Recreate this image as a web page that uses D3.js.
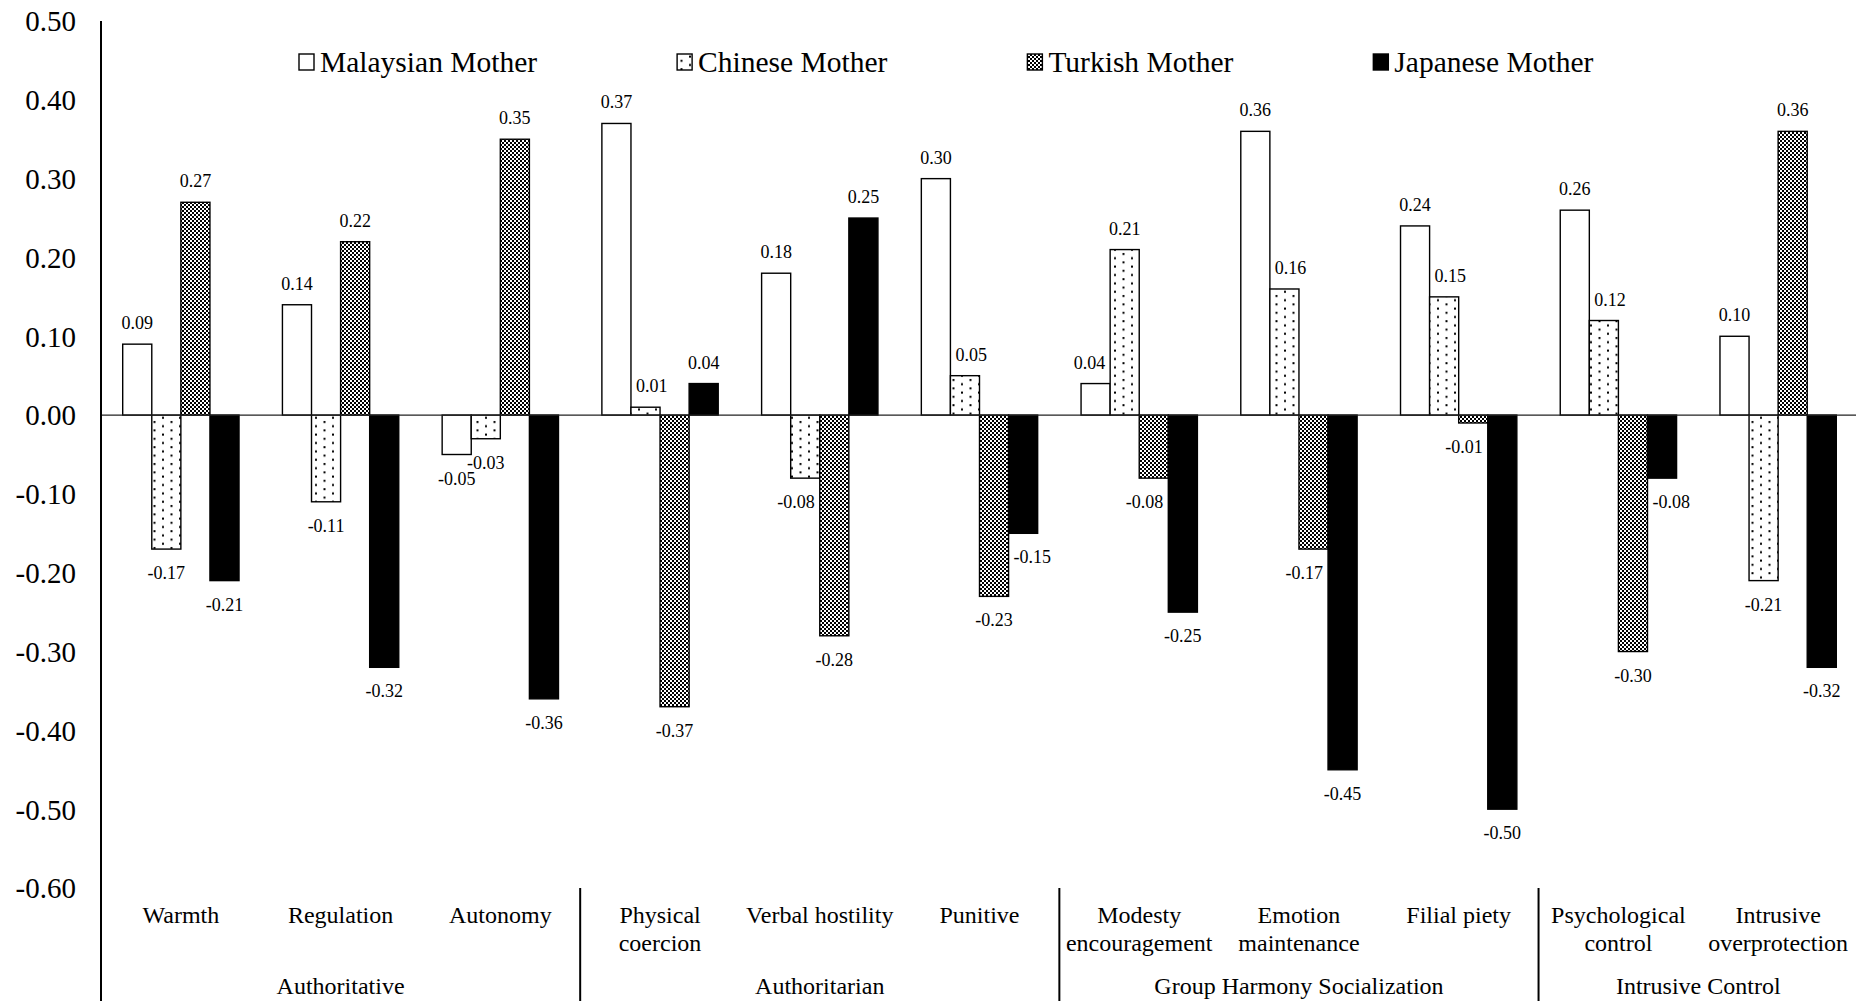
<!DOCTYPE html>
<html>
<head>
<meta charset="utf-8">
<script src="https://cdn.jsdelivr.net/npm/d3@7"></script>
<style>
  html, body { margin: 0; padding: 0; background: #fff; }
  svg { display: block; }
  text { font-family: "Liberation Serif", "Times New Roman", serif; fill: #000; }
</style>
</head>
<body>
<svg id="chart" width="1856" height="1001"></svg>
<script>
// Subscale categories, in plotting order
const categories = [
  "Warmth", "Regulation", "Autonomy",
  "Physical coercion", "Verbal hostility", "Punitive",
  "Modesty encouragement", "Emotion maintenance", "Filial piety",
  "Psychological control", "Intrusive overprotection"
];
// Two-line versions of the category labels
const categoryLines = [
  ["Warmth"], ["Regulation"], ["Autonomy"],
  ["Physical", "coercion"], ["Verbal hostility"], ["Punitive"],
  ["Modesty", "encouragement"], ["Emotion", "maintenance"], ["Filial piety"],
  ["Psychological", "control"], ["Intrusive", "overprotection"]
];
// Parenting style groups and how many categories each spans
const groups = ["Authoritative", "Authoritarian", "Group Harmony Socialization", "Intrusive Control"];
const groupSizes = [3, 3, 3, 2];

const seriesNames = ["Malaysian Mother", "Chinese Mother", "Turkish Mother", "Japanese Mother"];
const malaysian = [0.09, 0.14, -0.05, 0.37, 0.18, 0.30, 0.04, 0.36, 0.24, 0.26, 0.10];
const chinese   = [-0.17, -0.11, -0.03, 0.01, -0.08, 0.05, 0.21, 0.16, 0.15, 0.12, -0.21];
const turkish   = [0.27, 0.22, 0.35, -0.37, -0.28, -0.23, -0.08, -0.17, -0.01, -0.30, 0.36];
const japanese  = [-0.21, -0.32, -0.36, 0.04, 0.25, -0.15, -0.25, -0.45, -0.50, -0.08, -0.32];
const seriesValues = [malaysian, chinese, turkish, japanese];

const yTicks = [0.5, 0.4, 0.3, 0.2, 0.1, 0, -0.1, -0.2, -0.3, -0.4, -0.5, -0.6];

const svg = d3.select("#chart");
const W = 1856, H = 1001;
const plotLeft = 101, plotRight = 1858, plotTop = 21, plotBottom = 888;
const serif = "'Liberation Serif', 'Times New Roman', serif";

// Number format with a plain hyphen for negatives
const fmt = d3.formatLocale({ decimal: ".", thousands: ",", grouping: [3], currency: ["", ""], minus: "-" }).format(".2f");

// Fill patterns
const defs = svg.append("defs");
const dots = defs.append("pattern").attr("id", "dots")
  .attr("patternUnits", "userSpaceOnUse").attr("width", 17).attr("height", 8.4);
dots.append("rect").attr("width", 17).attr("height", 8.4).attr("fill", "#fff");
dots.append("rect").attr("x", 0.5).attr("y", 1).attr("width", 2).attr("height", 2).attr("fill", "#000");
dots.append("rect").attr("x", 9).attr("y", 5.2).attr("width", 2).attr("height", 2).attr("fill", "#000");

const checker = defs.append("pattern").attr("id", "checker")
  .attr("patternUnits", "userSpaceOnUse").attr("width", 4).attr("height", 4);
checker.append("rect").attr("width", 4).attr("height", 4).attr("fill", "#fff");
checker.append("rect").attr("width", 2).attr("height", 2).attr("fill", "#000");
checker.append("rect").attr("x", 2).attr("y", 2).attr("width", 2).attr("height", 2).attr("fill", "#000");

const fills = ["#fff", "url(#dots)", "url(#checker)", "#000"];

// Scales
const x = d3.scaleBand().domain(categories).range([plotLeft, plotRight]).padding(0);
const bw = x.bandwidth();
const xs = d3.scaleBand().domain(seriesNames).range([21.7, bw - 21.7]).padding(0);
const y = d3.scaleLinear().domain([-0.6, 0.5]).range([plotBottom, plotTop]);

// Y axis tick labels
const yAxis = d3.axisLeft(y).tickValues(yTicks).tickSize(0).tickPadding(0).tickFormat(fmt);
const yg = svg.append("g").attr("transform", "translate(76,0)").call(yAxis);
yg.select(".domain").remove();
yg.attr("font-family", null).attr("font-size", null);
yg.selectAll("text")
  .style("font-family", serif)
  .style("font-size", "29px")
  .attr("fill", "#000")
  .attr("dy", "0.34em");

// Bars
const barData = [];
seriesValues.forEach((vals, si) => {
  vals.forEach((v, ci) => barData.push({ s: seriesNames[si], si, ci, c: categories[ci], v }));
});
const barX = d => x(d.c) + xs(d.s);
const bwS = xs.bandwidth();

svg.append("g").selectAll("rect").data(barData).join("rect")
  .attr("x", barX)
  .attr("width", bwS)
  .attr("y", d => y(Math.max(0, d.v)))
  .attr("height", d => Math.abs(y(d.v) - y(0)))
  .attr("fill", d => fills[d.si])
  .attr("stroke", "#000")
  .attr("stroke-width", 1.4);

// Zero line
svg.append("line")
  .attr("x1", plotLeft).attr("x2", plotRight)
  .attr("y1", y(0)).attr("y2", y(0))
  .attr("stroke", "#222").attr("stroke-width", 1.4);

// Value labels, pushed sideways when a neighbouring bar runs through them
const labelG = svg.append("g");
const gap = 5;
barData.forEach(d => {
  const cx = barX(d) + bwS / 2;
  const ly = d.v >= 0 ? y(d.v) - 15 : y(d.v) + 30;
  const t = labelG.append("text")
    .attr("x", cx).attr("y", ly)
    .attr("text-anchor", "middle")
    .style("font-size", "18px")
    .text(fmt(d.v));
  const w = t.node().getComputedTextLength();
  const top = ly - 13, bot = ly + 3;
  const blocks = nb => {
    if (nb < 0 || nb > 3) return false;
    const v = seriesValues[nb][d.ci];
    const y0 = Math.min(y(v), y(0)), y1 = Math.max(y(v), y(0));
    return y1 > top && y0 < bot;
  };
  const leftHit = blocks(d.si - 1), rightHit = blocks(d.si + 1);
  let nx = cx;
  if (leftHit && !rightHit) nx = barX(d) + gap + w / 2;
  else if (rightHit && !leftHit) nx = barX(d) + bwS - gap - w / 2;
  t.attr("x", nx);
});

// Y axis line
svg.append("line")
  .attr("x1", plotLeft).attr("x2", plotLeft)
  .attr("y1", plotTop).attr("y2", H)
  .attr("stroke", "#000").attr("stroke-width", 2);

// Category labels
const catG = svg.append("g");
categories.forEach((c, i) => {
  const t = catG.append("text")
    .attr("x", x(c) + bw / 2)
    .attr("y", 923)
    .attr("text-anchor", "middle")
    .style("font-size", "24px");
  categoryLines[i].forEach((line, li) => {
    t.append("tspan").attr("x", x(c) + bw / 2).attr("dy", li === 0 ? 0 : 28).text(line);
  });
});

// Group labels and dividers
let start = 0;
groups.forEach((g, gi) => {
  const x0 = x(categories[start]);
  const x1 = x0 + bw * groupSizes[gi];
  svg.append("text")
    .attr("x", (x0 + x1) / 2)
    .attr("y", 994)
    .attr("text-anchor", "middle")
    .style("font-size", "24px")
    .text(g);
  if (gi > 0) {
    svg.append("line")
      .attr("x1", x0).attr("x2", x0)
      .attr("y1", plotBottom).attr("y2", H)
      .attr("stroke", "#000").attr("stroke-width", 2);
  }
  start += groupSizes[gi];
});

// Legend
const legend = svg.append("g");
let lx = 299;
seriesNames.forEach((name, i) => {
  legend.append("rect")
    .attr("x", lx).attr("y", 54)
    .attr("width", 15).attr("height", 16)
    .attr("fill", fills[i])
    .attr("stroke", "#000").attr("stroke-width", 1.4);
  const t = legend.append("text")
    .attr("x", lx + 21).attr("y", 72)
    .style("font-size", "29.5px")
    .text(name);
  lx = lx + 21 + t.node().getComputedTextLength() + 140;
});
</script>
</body>
</html>
